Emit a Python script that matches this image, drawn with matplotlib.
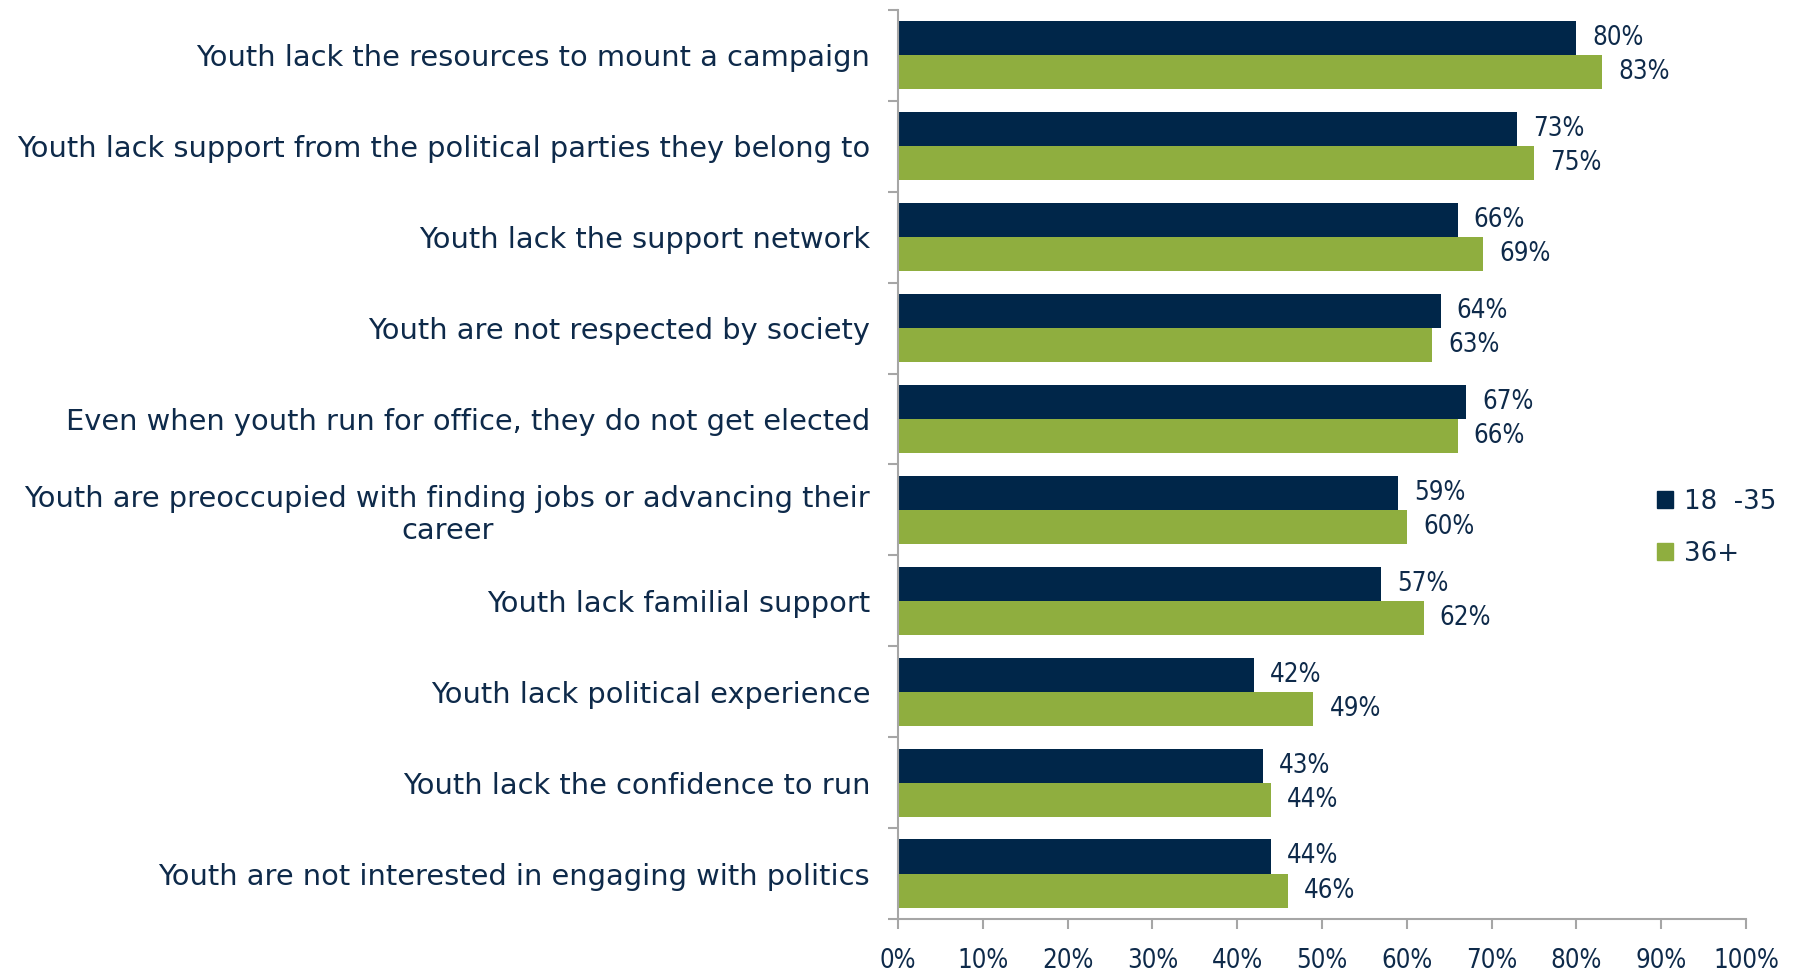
import numpy as np
import matplotlib.pyplot as plt
from matplotlib.patches import Patch

categories = [
    "Youth lack the resources to mount a campaign",
    "Youth lack support from the political parties they belong to",
    "Youth lack the support network",
    "Youth are not respected by society",
    "Even when youth run for office, they do not get elected",
    "Youth are preoccupied with finding jobs or advancing their\ncareer",
    "Youth lack familial support",
    "Youth lack political experience",
    "Youth lack the confidence to run",
    "Youth are not interested in engaging with politics",
]
young = [80, 73, 66, 64, 67, 59, 57, 42, 43, 44]
older = [83, 75, 69, 63, 66, 60, 62, 49, 44, 46]
series_names = ["18  -35", "36+"]
xticks = [0, 10, 20, 30, 40, 50, 60, 70, 80, 90, 100]

navy = "#002649"
green = "#8FAE3F"
txt = "#0E2A4A"
grey = "#A6A6A6"

plt.rcParams['font.family'] = ['DejaVu Sans']

fig = plt.figure(figsize=(17.93, 9.73), dpi=100)
ax = fig.add_axes([0.5008, 0.0555, 0.473, 0.9343])

y = np.arange(len(categories))
h = 0.375
ax.barh(y - h / 2, young, height=h, color=navy)
ax.barh(y + h / 2, older, height=h, color=green)

# value labels just past the end of each bar
for yi, v in zip(y, young):
    ax.text(v + 1.9, yi - h / 2, f"{v}%", va='center', ha='left',
            fontsize=18.5, color=txt, fontstretch='condensed')
for yi, v in zip(y, older):
    ax.text(v + 1.9, yi + h / 2, f"{v}%", va='center', ha='left',
            fontsize=18.5, color=txt, fontstretch='condensed')

ax.set_xlim(0, 100)
ax.set_ylim(len(categories) - 0.5, -0.5)
ax.set_xticks(xticks)
ax.set_xticklabels([f"{t}%" for t in xticks], fontsize=18.5, color=txt,
                   fontstretch='condensed')

# major ticks mark category boundaries, minor ones carry the labels
ax.set_yticks(np.arange(len(categories) + 1) - 0.5)
ax.set_yticklabels([])
ax.set_yticks(y, minor=True)
ax.set_yticklabels(categories, minor=True, fontsize=20.8, color=txt,
                   multialignment='center')
ax.tick_params(axis='y', which='minor', length=0, pad=20)
ax.tick_params(axis='y', which='major', length=7, color=grey, width=1.5)
ax.tick_params(axis='x', length=7, color=grey, width=1.5, pad=14)

for s in ['top', 'right']:
    ax.spines[s].set_visible(False)
for s in ['left', 'bottom']:
    ax.spines[s].set_color(grey)
    ax.spines[s].set_linewidth(1.5)

handles = [Patch(color=navy), Patch(color=green)]
fig.legend(handles, series_names, loc='upper left',
           bbox_to_anchor=(0.911, 0.522), frameon=False, fontsize=18.8,
           labelcolor=txt, handlelength=0.6, handleheight=0.6,
           handletextpad=0.45, labelspacing=1.0)

fig.savefig("out.png", dpi=100)
